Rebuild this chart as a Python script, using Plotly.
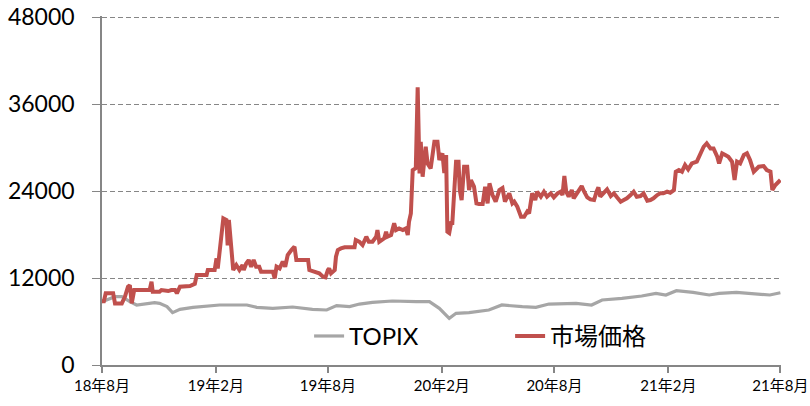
import pandas as pd
import plotly.graph_objects as go

START = "2018-08-01"

# 市場価格 (market price): day offset from 2018-08-01, value
red_days = [0, 3, 6, 18, 21, 32, 37, 42, 45, 48, 52, 77, 80, 82, 93, 96, 107, 112, 118, 121,
            126, 142, 150, 153, 169, 171, 182, 185, 187, 191, 196, 201, 203, 205, 209, 212, 217,
            222, 227, 229, 233, 237, 241, 245, 249, 254, 257, 276, 279, 282, 287, 292, 296, 300,
            306, 311, 314, 333, 335, 346, 351, 357, 361, 365, 367, 370, 376, 378, 381, 386, 392,
            408, 410, 416, 421, 427, 431, 437, 443, 445, 448, 456, 459, 461, 467, 472, 475, 480,
            486, 491, 494, 496, 499, 502, 507, 510, 513, 515, 518, 523, 526, 531, 537, 542, 545,
            550, 553, 556, 558, 561, 564, 566, 572, 576, 578, 581, 585, 590, 593, 596, 601, 605,
            609, 615, 619, 623, 626, 631, 636, 642, 647, 651, 658, 663, 666, 671, 677, 682, 687,
            690, 693, 695, 700, 703, 709, 714, 719, 725, 730, 736, 741, 744, 747, 750, 754, 759,
            762, 768, 775, 779, 784, 789, 795, 799, 802, 805, 811, 816, 822, 827, 832, 838, 843,
            848, 854, 859, 864, 870, 875, 881, 886, 891, 897, 902, 907, 913, 918, 924, 927, 932,
            937, 942, 947, 953, 961, 967, 972, 977, 983, 988, 994, 997, 1002, 1007, 1012, 1018,
            1022, 1026, 1031, 1037, 1042, 1047, 1053, 1061, 1069, 1074, 1080, 1083, 1088, 1096]
red_vals = [8800, 8800, 9900, 9900, 8500, 8500, 9400, 10800, 11000, 8500, 10340, 10340, 11490,
            10110, 10110, 10340, 10200, 10340, 10340, 9890, 10800, 10900, 11200, 12410, 12410,
            13100, 13100, 14710, 13300, 16320, 20230, 20000, 16500, 20000, 16320, 13100, 13790,
            13100, 13790, 13100, 14000, 14480, 13560, 14480, 13560, 13560, 12870, 12870, 11960,
            13560, 13330, 14250, 13560, 15170, 15860, 16320, 14480, 14480, 13100, 12870, 12640,
            12180, 12100, 13100, 13330, 12640, 13100, 14940, 15860, 16090, 16230, 16230, 17240,
            17000, 16550, 17700, 17000, 17000, 17700, 18620, 17000, 17470, 18390, 17700, 17930,
            19540, 18620, 18850, 18620, 18850, 17930, 19770, 20900, 26900, 27170, 38300, 26440,
            30800, 25970, 30100, 27800, 27130, 30800, 30800, 28280, 29200, 26480, 28970, 18390,
            18200, 19590, 19590, 28050, 28050, 24140, 22760, 27350, 27350, 24140, 25520, 24600,
            22300, 22200, 22200, 24600, 22300, 25060, 23450, 22530, 24140, 24410, 22530, 23680,
            22300, 22530, 21840, 20460, 20460, 21150,
            20920, 22300, 23680, 22760, 23910, 23220, 23910, 23220, 23680, 23130, 23680, 23910,
            23450, 26070, 23910, 23220, 24140, 22990, 23680, 24690, 23910, 23130, 22850, 22760,
            23910, 24510, 23220, 23680, 24230, 23310, 23680, 23130, 22530, 22760, 22990, 23450,
            23910, 23220, 23310, 23680, 22670, 22760, 22990, 23450, 23680, 23680, 23910, 23770,
            24140, 26670, 26900, 26670, 27590, 26990, 27820, 28050, 29200, 30110, 30570, 29880,
            29880, 28740, 27820, 29200, 28970, 28740, 28050, 25520, 28050, 27820, 28970, 29200,
            28280, 26670, 27350, 27440, 26900, 26670, 24140, 24830, 25520]

# TOPIX (rebased to the market price at the start)
topix_days = [0, 13, 21, 32, 45, 56, 73, 85, 93, 105, 114, 126, 147, 169, 190, 211, 234, 250,
              276, 308, 340, 363, 379, 400, 416, 437, 469, 508, 529, 545, 561, 572, 593, 625,
              646, 679, 701, 722, 766, 791, 808, 840, 872, 895, 911, 928, 955, 981, 997, 1025,
              1053, 1079, 1096]
topix_vals = [8730, 9200, 9420, 9420, 8730, 8280, 8510, 8600, 8510, 8050, 7220, 7680, 7960,
              8140, 8280, 8280, 8280, 7960, 7820, 8000, 7680, 7590, 8190, 8050, 8410, 8640,
              8830, 8730, 8730, 7820, 6440, 7130, 7220, 7590, 8280, 8050, 7960, 8410, 8510,
              8280, 8970, 9200, 9520, 9880, 9660, 10250, 10020, 9660, 9880, 10020, 9790, 9660,
              9970]

tick_dates = ["2018-08-01", "2019-02-01", "2019-08-01", "2020-02-01", "2020-08-01",
              "2021-02-01", "2021-08-01"]
tick_labels = ["18年8月", "19年2月", "19年8月", "20年2月", "20年8月", "21年2月", "21年8月"]
y_ticks = [0, 12000, 24000, 36000, 48000]

start = pd.Timestamp(START)
red_x = start + pd.to_timedelta(red_days, unit="D")
topix_x = start + pd.to_timedelta(topix_days, unit="D")

FONT = "Lato, 'Noto Sans CJK JP', sans-serif"
AXIS = "#868686"

fig = go.Figure()
fig.add_trace(go.Scatter(x=topix_x, y=topix_vals, mode="lines", name="TOPIX",
                         line=dict(color="#A6A6A6", width=3.2)))
fig.add_trace(go.Scatter(x=red_x, y=red_vals, mode="lines", name="市場価格",
                         line=dict(color="#C0504D", width=4)))

fig.update_layout(
    width=810, height=406,
    margin=dict(l=102, r=29, t=16, b=41),
    paper_bgcolor="white", plot_bgcolor="white",
    font=dict(family=FONT, color="#000000"),
    showlegend=True,
    legend=dict(orientation="h", x=0.305, y=0.082, xanchor="left", yanchor="middle",
                font=dict(size=24, family=FONT), bgcolor="rgba(0,0,0,0)",
                entrywidth=156, itemwidth=30),
)
fig.update_xaxes(
    type="date", range=["2018-08-01", "2021-08-02"],
    tickvals=tick_dates, ticktext=tick_labels,
    showgrid=False, showline=True, linecolor=AXIS, linewidth=1.5,
    ticks="outside", ticklen=6, tickcolor=AXIS, tickwidth=1.5,
    tickfont=dict(size=15, family=FONT), automargin=False, zeroline=False,
    ticklabeloverflow="allow",
)
fig.update_yaxes(
    range=[0, 48150], tickvals=y_ticks, ticktext=[str(v) for v in y_ticks],
    showgrid=True, gridcolor=AXIS, griddash="5px,3px", gridwidth=1,
    showline=True, linecolor=AXIS, linewidth=1.5,
    ticks="outside", ticklen=8, tickcolor=AXIS, tickwidth=1,
    tickfont=dict(size=23, family=FONT), ticklabelstandoff=13,
    automargin=False, zeroline=False, ticklabeloverflow="allow",
)

fig.write_html("out.html", config={"displayModeBar": False},
               post_script="document.body.style.margin='0';document.body.style.padding='0';")
